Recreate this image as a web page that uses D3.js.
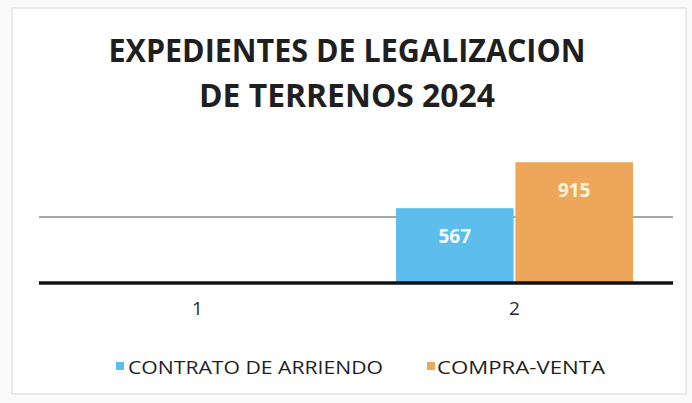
<!DOCTYPE html>
<html><head><meta charset="utf-8">
<script src="https://cdn.jsdelivr.net/npm/d3@7"></script>
<style>body{margin:0;background:#fff}svg{display:block}</style>
</head><body>
<svg id="c" width="692" height="403"></svg>
<script>
const categories = ["1", "2"];
const seriesNames = ["CONTRATO DE ARRIENDO", "COMPRA-VENTA"];
const contratoValues = [0, 567];
const compraValues = [0, 915];
const gridTicks = [0, 500];
const titleLines = ["EXPEDIENTES DE LEGALIZACION", "DE TERRENOS 2024"];
const colors = ["#5DBDEC", "#EEA65B"];

const svg = d3.select("#c");
const W = 692, H = 403;
svg.append("rect").attr("x", 0).attr("y", 0).attr("width", W).attr("height", H).attr("fill", "#fafafa");
svg.append("rect").attr("x", 12).attr("y", 8).attr("width", 674).attr("height", 386)
  .attr("fill", "#fff").attr("stroke", "#e4e4e4").attr("stroke-width", 1.5);

const font = "'Open Sans', 'Liberation Sans', sans-serif";
// title
const tw = [477, 296];
titleLines.forEach((t, i) => {
  svg.append("text").attr("x", 347).attr("y", 62 + i * 45)
    .attr("text-anchor", "middle").attr("font-family", font).attr("font-weight", "bold")
    .attr("font-size", 32).attr("fill", "#1f1f1f")
    .attr("textLength", tw[i]).attr("lengthAdjust", "spacingAndGlyphs").text(t);
});

const left = 39, right = 673, y0 = 283, yTop = 151;
const x = d3.scaleBand().domain(categories).range([left, right]).paddingInner(0).paddingOuter(0);
const y = d3.scaleLinear().domain([0, 1000]).range([y0, yTop]);
const xs = d3.scaleBand().domain(seriesNames).range([0, x.bandwidth()]).paddingInner(0.015).paddingOuter(0.335);

// grid line (500)
svg.append("g").selectAll("line").data(gridTicks.filter(d => d > 0)).join("line")
  .attr("x1", left).attr("x2", right).attr("y1", d => y(d)).attr("y2", d => y(d))
  .attr("stroke", "#8a8a8a").attr("stroke-width", 1.5);

const rows = categories.map((c, i) => ({ c, vals: [contratoValues[i], compraValues[i]] }));
const g = svg.append("g");
rows.forEach(r => {
  r.vals.forEach((v, j) => {
    if (v <= 0) return;
    const bx = x(r.c) + xs(seriesNames[j]);
    g.append("rect").attr("x", bx).attr("y", y(v)).attr("width", xs.bandwidth())
      .attr("height", y(0) - y(v)).attr("fill", colors[j]);
    g.append("text").attr("x", bx + xs.bandwidth() / 2).attr("y", y(v) + 35)
      .attr("text-anchor", "middle").attr("font-family", font).attr("font-weight", "bold")
      .attr("font-size", 19).attr("fill", j === 0 ? "#f4faff" : "#fff6e0").text(v);
  });
});

// baseline
svg.append("line").attr("x1", left).attr("x2", right).attr("y1", y(0)).attr("y2", y(0))
  .attr("stroke", "#111").attr("stroke-width", 3.5);

// x axis labels
const ax = svg.append("g").attr("transform", `translate(0,${y0})`)
  .call(d3.axisBottom(x).tickSize(0).tickPadding(19));
ax.select(".domain").remove();
ax.selectAll("text").attr("font-family", font).attr("font-size", 19).attr("fill", "#2a2a2a");

// legend
const legX = [116, 427], legTX = [128, 437], legW = [255, 168];
seriesNames.forEach((s, i) => {
  svg.append("rect").attr("x", legX[i]).attr("y", 362).attr("width", 8).attr("height", 8).attr("fill", colors[i]);
  svg.append("text").attr("x", legTX[i]).attr("y", 374).attr("font-family", font)
    .attr("font-size", 19).attr("fill", "#1f1f1f")
    .attr("textLength", legW[i]).attr("lengthAdjust", "spacingAndGlyphs").text(s);
});
</script>
</body></html>
